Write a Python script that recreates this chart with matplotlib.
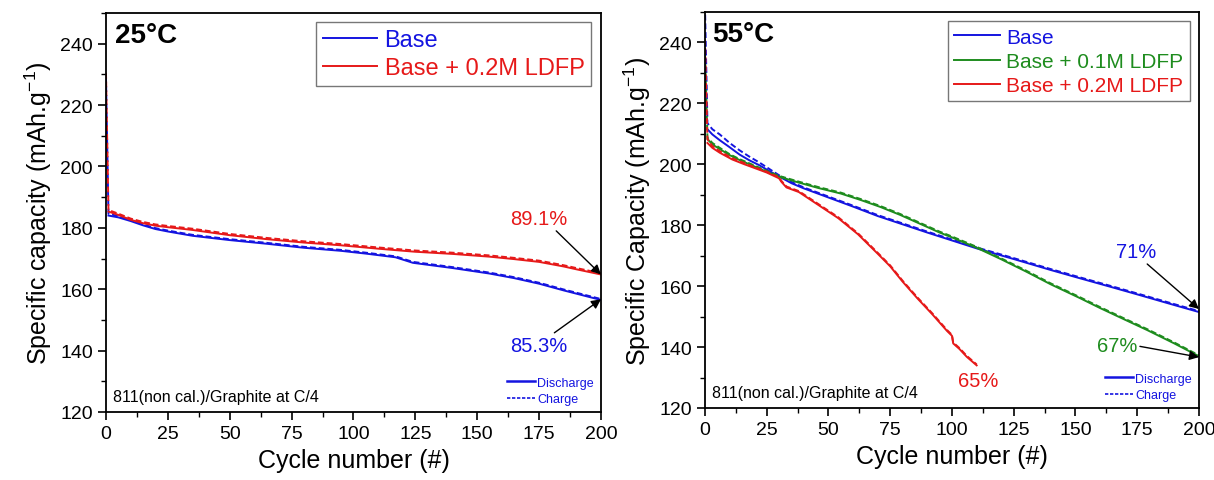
import matplotlib
matplotlib.use('agg')
import matplotlib.pyplot as plt
from matplotlib.lines import Line2D
from matplotlib.ticker import MultipleLocator

plt.rcParams['font.family'] = ['Liberation Sans', 'DejaVu Sans']

BLUE = '#1414e0'
RED = '#e61919'
GREEN = '#1e8c1e'

# ---- 25 C data ----
c25_base_dis_x = [1, 5, 10, 15, 20, 25, 35, 50, 65, 80, 95, 105, 112, 117, 124, 140, 155, 165, 175, 185, 200]
c25_base_dis_y = [184.0, 183.4, 182.2, 180.8, 179.6, 178.8, 177.4, 176.0, 174.8, 173.5, 172.5, 171.6, 170.9, 170.4, 168.6, 166.9, 165.1, 163.6, 161.8, 159.6, 156.5]
c25_base_chg_x = [0, 1, 5, 10, 15, 20, 25, 35, 50, 65, 80, 95, 105, 112, 117, 124, 140, 155, 165, 175, 185, 200]
c25_base_chg_y = [229.0, 184.6, 183.8, 182.5, 181.1, 179.9, 179.1, 177.7, 176.3, 175.1, 173.8, 172.8, 171.9, 171.2, 170.7, 168.9, 167.2, 165.4, 163.9, 162.1, 159.9, 156.8]
c25_ldfp_dis_x = [1, 5, 10, 15, 20, 25, 35, 50, 65, 80, 95, 110, 125, 140, 155, 165, 175, 185, 190, 200]
c25_ldfp_dis_y = [185.3, 184.2, 182.6, 181.5, 180.7, 180.2, 179.3, 177.6, 176.3, 175.2, 174.3, 173.2, 172.2, 171.5, 170.6, 169.8, 168.9, 167.4, 166.5, 164.8]
c25_ldfp_chg_x = [0, 1, 5, 10, 15, 20, 25, 35, 50, 65, 80, 95, 110, 125, 140, 155, 165, 175, 185, 190, 200]
c25_ldfp_chg_y = [230.5, 185.8, 184.6, 183.0, 181.9, 181.1, 180.6, 179.7, 178.0, 176.7, 175.6, 174.7, 173.6, 172.6, 171.9, 171.0, 170.2, 169.3, 167.8, 166.9, 165.2]

# ---- 55 C data ----
c55_base_dis_x = [1, 3, 6, 10, 14, 18, 22, 26, 30, 35, 40, 50, 60, 70, 80, 90, 100, 110, 125, 140, 150, 165, 175, 190, 200]
c55_base_dis_y = [211.5, 209.8, 207.9, 205.6, 203.2, 201.3, 199.7, 197.8, 196.0, 193.8, 192.1, 189.1, 186.1, 183.0, 180.3, 177.6, 175.0, 172.4, 168.9, 165.3, 163.0, 159.6, 157.3, 153.8, 151.5]
c55_base_chg_x = [0, 1, 3, 6, 10, 14, 18, 22, 26, 30, 35, 40, 50, 60, 70, 80, 90, 100, 110, 125, 140, 150, 165, 175, 190, 200]
c55_base_chg_y = [252.0, 213.5, 211.5, 209.8, 207.0, 204.6, 202.5, 200.6, 198.5, 196.4, 194.2, 192.4, 189.4, 186.4, 183.3, 180.6, 177.9, 175.3, 172.7, 169.2, 165.6, 163.3, 159.9, 157.6, 154.1, 151.8]
c55_l01_dis_x = [1, 3, 6, 10, 14, 18, 22, 26, 30, 38, 46, 55, 63, 71, 79, 87, 95, 100, 110, 120, 130, 140, 152, 160, 170, 179, 190, 200]
c55_l01_dis_y = [208.3, 206.5, 205.0, 203.0, 201.4, 200.0, 198.6, 197.2, 195.9, 194.0, 192.2, 190.4, 188.3, 186.0, 183.4, 180.5, 177.6, 176.0, 172.6, 168.8, 164.8, 160.6, 156.0, 152.8, 149.0, 145.6, 141.2, 137.0]
c55_l01_chg_x = [0, 1, 3, 6, 10, 14, 18, 22, 26, 30, 38, 46, 55, 63, 71, 79, 87, 95, 100, 110, 120, 130, 140, 152, 160, 170, 179, 190, 200]
c55_l01_chg_y = [236.0, 208.8, 207.0, 205.4, 203.3, 201.7, 200.3, 198.9, 197.5, 196.2, 194.3, 192.5, 190.7, 188.6, 186.3, 183.7, 180.8, 177.9, 176.3, 172.9, 169.1, 165.1, 160.9, 156.3, 153.1, 149.3, 145.9, 141.5, 137.3]
c55_l02_dis_x = [1, 3, 6, 11, 16, 20, 25, 30, 31, 33, 38, 46, 54, 62, 70, 75, 80, 86, 92, 98, 100, 100.5, 103, 106, 110]
c55_l02_dis_y = [207.0, 205.4, 203.8, 201.6, 200.0, 198.8, 197.3, 195.4, 194.2, 192.4, 190.9, 186.6, 182.3, 177.0, 170.6, 166.5, 161.5, 156.0, 150.8, 145.3, 143.7, 141.2, 139.4, 136.8, 134.0]
c55_l02_chg_x = [0, 1, 3, 6, 11, 16, 20, 25, 30, 31, 33, 38, 46, 54, 62, 70, 75, 80, 86, 92, 98, 100, 100.5, 103, 106, 110]
c55_l02_chg_y = [241.0, 208.3, 206.0, 204.3, 202.0, 200.4, 199.1, 197.6, 195.7, 194.5, 192.7, 191.2, 186.9, 182.6, 177.3, 170.9, 166.8, 161.8, 156.3, 151.1, 145.6, 144.0, 141.5, 139.7, 137.1, 134.3]

fig = plt.figure(figsize=(12.14, 4.81), dpi=100)
ax1 = fig.add_axes([0.0873, 0.1414, 0.4077, 0.8296])
ax2 = fig.add_axes([0.5807, 0.1497, 0.4069, 0.8233])

lw = 1.4
dash = (0, (3, 1.5))

ax1.plot(c25_base_dis_x, c25_base_dis_y, color=BLUE, lw=lw, label='Base')
ax1.plot(c25_base_chg_x, c25_base_chg_y, color=BLUE, lw=lw, ls=dash)
ax1.plot(c25_ldfp_dis_x, c25_ldfp_dis_y, color=RED, lw=lw, label='Base + 0.2M LDFP')
ax1.plot(c25_ldfp_chg_x, c25_ldfp_chg_y, color=RED, lw=lw, ls=dash)

ax2.plot(c55_base_dis_x, c55_base_dis_y, color=BLUE, lw=lw, label='Base')
ax2.plot(c55_base_chg_x, c55_base_chg_y, color=BLUE, lw=lw, ls=dash)
ax2.plot(c55_l01_dis_x, c55_l01_dis_y, color=GREEN, lw=lw, label='Base + 0.1M LDFP')
ax2.plot(c55_l01_chg_x, c55_l01_chg_y, color=GREEN, lw=lw, ls=dash)
ax2.plot(c55_l02_dis_x, c55_l02_dis_y, color=RED, lw=lw, label='Base + 0.2M LDFP')
ax2.plot(c55_l02_chg_x, c55_l02_chg_y, color=RED, lw=lw, ls=dash)

for ax in (ax1, ax2):
    ax.set_xlim(0, 200)
    ax.set_ylim(120, 250)
    ax.xaxis.set_major_locator(MultipleLocator(25))
    ax.xaxis.set_minor_locator(MultipleLocator(12.5))
    ax.yaxis.set_major_locator(MultipleLocator(20))
    ax.yaxis.set_minor_locator(MultipleLocator(10))
    ax.tick_params(which='major', direction='out', length=6, width=1.2, labelsize=14)
    ax.tick_params(which='minor', direction='out', length=3.5, width=1.0)
    for s in ax.spines.values():
        s.set_linewidth(1.3)
    ax.set_xlabel('Cycle number (#)', fontsize=18)
    ax.text(0.014, 0.04, '811(non cal.)/Graphite at C/4', transform=ax.transAxes,
            fontsize=11.5, va='center', ha='left')
    # discharge/charge key
    handles = [Line2D([], [], color=BLUE, lw=1.8),
               Line2D([], [], color=BLUE, lw=1.2, ls=(0, (2, 1)))]
    key = ax.legend(handles, ['Discharge', 'Charge'], loc='lower right', frameon=False,
                    fontsize=9, handlelength=2.2, handletextpad=0.2, labelspacing=0.35,
                    borderaxespad=0.15, labelcolor=BLUE)
    ax.add_artist(key)

ax1.set_ylabel('Specific capacity (mAh.g$^{\\mathregular{-1}}$)', fontsize=18)
ax2.set_ylabel('Specific Capacity (mAh.g$^{\\mathregular{-1}}$)', fontsize=18)

ax1.text(0.018, 0.945, '25°C', transform=ax1.transAxes, fontsize=20, fontweight='bold', va='center')
ax2.text(0.014, 0.944, '55°C', transform=ax2.transAxes, fontsize=20, fontweight='bold', va='center')

h1 = ax1.get_legend_handles_labels()
leg1 = ax1.legend(*h1, loc='upper right', fontsize=17, frameon=True, fancybox=False,
                  edgecolor='#555555', handlelength=2.3, handletextpad=0.3, labelspacing=0.25,
                  borderaxespad=0.4, borderpad=0.3, labelcolor='linecolor')
leg1.get_frame().set_linewidth(1.0)
h2 = ax2.get_legend_handles_labels()
leg2 = ax2.legend(*h2, loc='upper right', fontsize=15, frameon=True, fancybox=False,
                  edgecolor='#555555', handlelength=2.2, handletextpad=0.3, labelspacing=0.25,
                  borderaxespad=0.45, borderpad=0.3, labelcolor='linecolor')
leg2.get_frame().set_linewidth(1.0)

arrow = dict(arrowstyle='-|>', color='black', lw=1.0, mutation_scale=14, shrinkA=0, shrinkB=0)
ax1.annotate('89.1%', xy=(200, 164.8), xytext=(175, 183.0), color=RED, fontsize=14.5,
             ha='center', va='center', arrowprops=dict(arrow, relpos=(0.75, 0.0)))
ax1.annotate('85.3%', xy=(200, 156.7), xytext=(175, 141.8), color=BLUE, fontsize=14.5,
             ha='center', va='center', arrowprops=dict(arrow, relpos=(0.7, 1.0)))
ax2.annotate('71%', xy=(200, 152.5), xytext=(174.5, 171.3), color=BLUE, fontsize=14.5,
             ha='center', va='center', arrowprops=dict(arrow, relpos=(0.7, 0.0)))
ax2.annotate('67%', xy=(200, 136.7), xytext=(166.8, 140.4), color=GREEN, fontsize=14.5,
             ha='center', va='center', arrowprops=dict(arrow, relpos=(1.0, 0.5)))
ax2.text(110.5, 128.9, '65%', color=RED, fontsize=14.5, ha='center', va='center')

fig.savefig('out.png', dpi=100)
